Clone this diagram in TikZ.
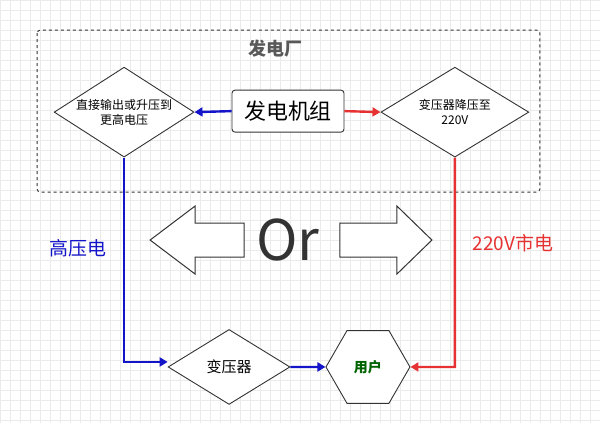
\documentclass[tikz,border=0pt]{standalone}
\usepackage{fontspec}
\setmainfont{Noto Sans CJK SC}
\usetikzlibrary{shapes.geometric,arrows.meta}
\definecolor{myblue}{RGB}{20,20,200}
\definecolor{myred}{RGB}{230,50,50}
\tikzset{
 dia/.style={diamond,draw=black!80,line width=0.9pt,fill=white,aspect=1.55,inner sep=0pt,align=center,font=\fontsize{12}{15}\selectfont},
 conn/.style={line width=2.4pt,-{Triangle[length=8pt,width=9pt]}},
 bigarrow/.style={draw=black!80,line width=1pt,fill=white,line join=miter}
}
\begin{document}
\begin{tikzpicture}[x=1pt,y=-1pt]
\fill[white] (0,0) rectangle (600,423);
\draw[black!8,step=10pt] (0,0) grid (600,423);
\useasboundingbox (0,0) rectangle (600,423);
\draw[dashed,line width=0.9pt,black!80,rounded corners=3pt] (37,30) rectangle (540,192);
\node[font=\fontsize{18}{20}\selectfont\bfseries,text=black!65] (t) at (275,48) {发电厂};
\node[dia,minimum width=140pt,minimum height=90pt] (L) at (124,112) {直接输出或升压到\\更高电压};
\node[draw=black!80,line width=0.9pt,rounded corners=3pt,fill=white,minimum width=112pt,minimum height=42pt,font=\fontsize{22}{24}\selectfont] (G) at (288,111) {发电机组};
\node[dia,minimum width=148pt,minimum height=90pt] (R) at (455,112) {变压器降压至\\220V};
\node[dia,minimum width=122pt,minimum height=75pt,font=\fontsize{15}{17}\selectfont] (T) at (229,367) {变压器};
\node[regular polygon,regular polygon sides=6,draw=black!80,line width=0.9pt,fill=white,minimum size=84pt,inner sep=0pt,font=\fontsize{14}{16}\selectfont\bfseries,text={rgb,255:red,0;green,100;blue,0}] (U) at (368,367) {用户};
\draw[conn,myblue] (G.west) -- (L.east);
\draw[conn,myred] (G.east) -- (R.west);
\coordinate (c1) at (124,362);
\coordinate (c2) at (455,367);
\draw[conn,myblue] (L.south) -- (c1) -- (T.west |- c1);
\draw[conn,myblue] (T.east) -- (U.west);
\draw[conn,myred] (R.south) -- (c2) -- (U.east);
\node[font=\fontsize{19}{21}\selectfont,text=myblue] (hv) at (78,248) {高压电};
\node[font=\fontsize{19}{21}\selectfont,text=myred] (lv) at (513,243) {220V市电};
\draw[bigarrow] (150,240) -- (195,206) -- (195,223) -- (244,223) -- (244,257) -- (195,257) -- (195,274) -- cycle;
\draw[bigarrow] (432,240) -- (397,206) -- (397,223) -- (340,223) -- (340,257) -- (397,257) -- (397,274) -- cycle;
\node[font=\fontsize{56}{60}\selectfont,text=black!80] (or) at (288,240) {Or};
\end{tikzpicture}
\end{document}
